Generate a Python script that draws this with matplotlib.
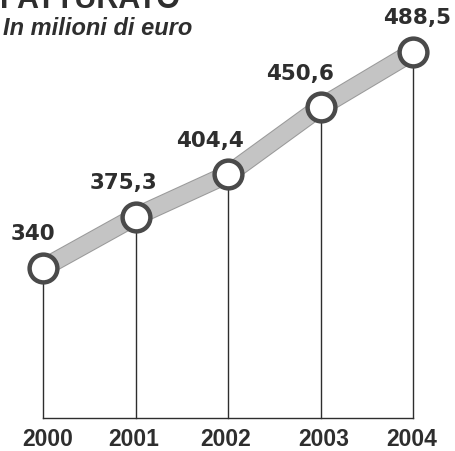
import matplotlib.pyplot as plt

years = [2000, 2001, 2002, 2003, 2004]
fatturato = [340, 375.3, 404.4, 450.6, 488.5]
labels = ['340', '375,3', '404,4', '450,6', '488,5']

plt.rcParams['font.family'] = ['Liberation Sans', 'DejaVu Sans']

fig = plt.figure(figsize=(4.55, 4.51), dpi=100)
ax = fig.add_axes([0, 0, 1, 1])
ax.set_xlim(1999.535, 2004.454)
ax.set_ylim(214.2, 524.2)
ax.axis('off')

ink = '#2e2e2e'
base = 237

# stems and baseline
for x, y in zip(years, fatturato):
    ax.plot([x, x], [base, y], color=ink, lw=1, zorder=1)
ax.plot([years[0], years[-1]], [base, base], color=ink, lw=1, zorder=1)

# thick gray band
ax.plot(years, fatturato, color='#9a9a9a', lw=13.5, solid_capstyle='butt', zorder=2)
ax.plot(years, fatturato, color='#c4c4c4', lw=12, solid_capstyle='butt', zorder=2)

# circles
ax.plot(years, fatturato, 'o', ms=20, mfc='white', mec='#4a4a4a', mew=3.2, zorder=3)

# value labels (shifted left of the points, last one pushed in from the edge)
dx = [-7, -9, -13, -15, 3]
for x, y, s, d in zip(years, fatturato, labels, dx):
    ax.annotate(s, (x, y), xytext=(d, 19.8), textcoords='offset points',
                ha='center', va='baseline', fontsize=15.5, fontweight='bold',
                color=ink, family=['DejaVu Sans'])

year_dx = [3.5, -1.4, -1.4, 2.2, -0.7]
for x, d in zip(years, year_dx):
    ax.annotate(str(x), (x, base), xytext=(d, -20.5), textcoords='offset points',
                ha='center', va='baseline', fontsize=16.5, fontweight='bold', color=ink)

fig.text(0.0, 0.982, 'FATTURATO', ha='left', va='baseline', fontsize=22, fontweight='bold', color=ink)
fig.text(0.007, 0.922, 'In milioni di euro', ha='left', va='baseline', fontsize=17,
         fontweight='bold', fontstyle='italic', color=ink)

fig.savefig('out.png', dpi=100)
